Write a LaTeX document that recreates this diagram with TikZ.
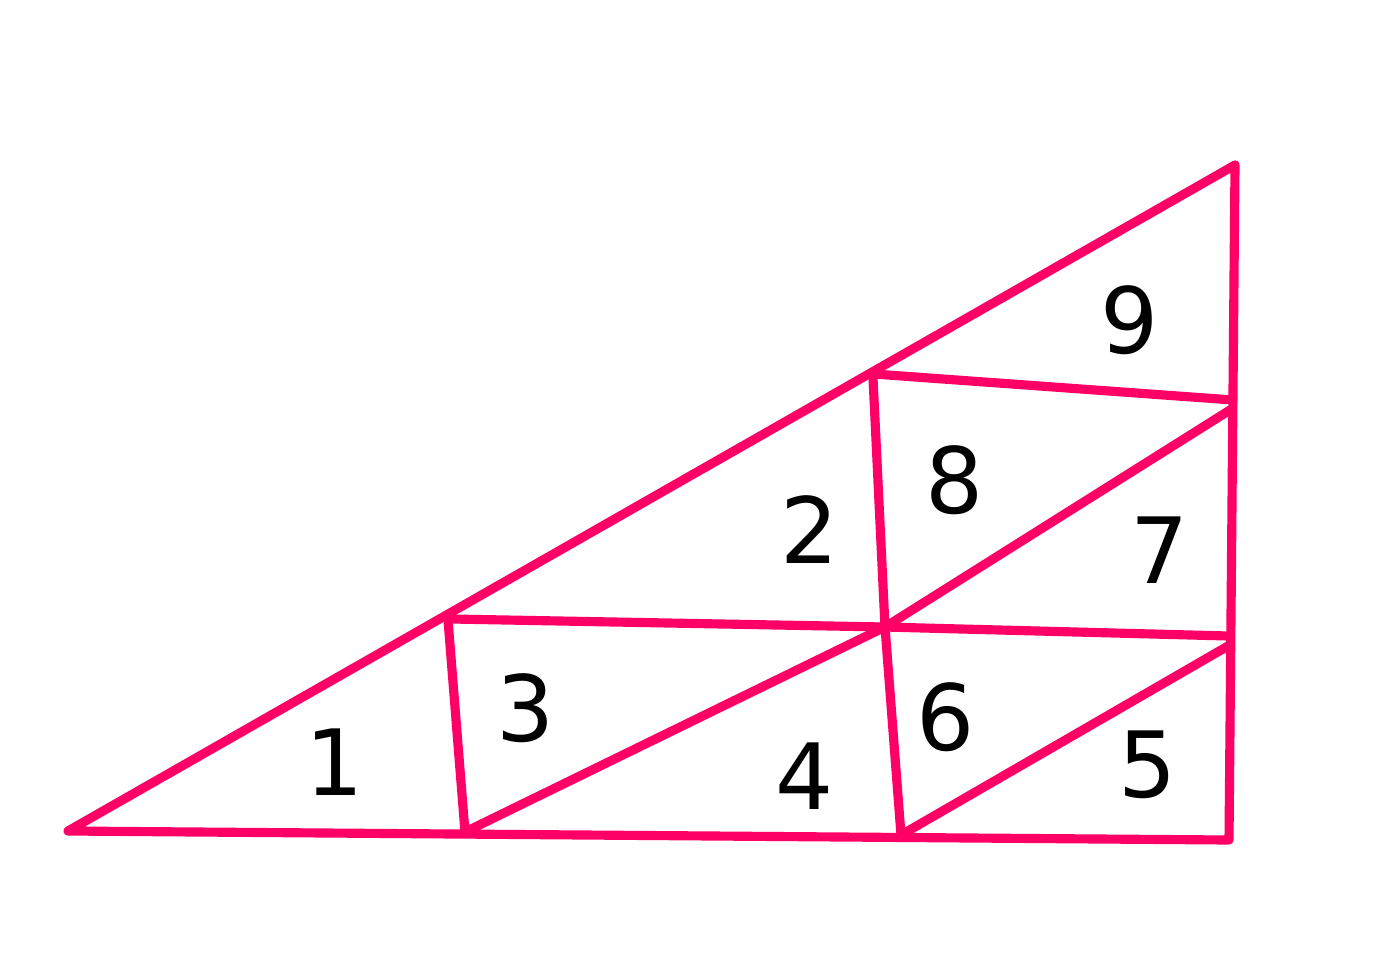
\documentclass[tikz,border=0pt]{standalone}
\usepackage{fontspec}
\setmainfont{DejaVu Sans}
\definecolor{edge}{HTML}{FF0066}
\begin{document}
\begin{tikzpicture}[x=0.01cm,y=-0.01cm,
  edgeline/.style={draw=edge,line width=2.6pt,line cap=round,line join=round},
  num/.style={font=\fontsize{26}{30}\selectfont,text=black,inner sep=0pt}]
\useasboundingbox[fill=white] (0,0) rectangle (1400,969);
% corners
\coordinate (A) at (68,831);
\coordinate (T) at (1235,165);
\coordinate (B) at (1229,840);
% hypotenuse points
\coordinate (H1) at (450,613);
\coordinate (H2) at (874,374);
% interior / side points
\coordinate (M) at (885,627);
\coordinate (R1) at (1233,400);
\coordinate (R1b) at (1230,410);
\coordinate (R2) at (1229,636);
\coordinate (R2b) at (1228,646);
\coordinate (D1) at (465,832);
\coordinate (D2) at (901,835);
\coordinate (V1) at (448,620);
% outer triangle
\draw[edgeline] (A) -- (T) -- (B) -- cycle;
% lines
\draw[edgeline] (H2) -- (R1);
\draw[edgeline] (452,619) -- (M) -- (R2);
\draw[edgeline] (V1) -- (D1);
\draw[edgeline] (873,378) -- (M) -- (D2);
\draw[edgeline] (D1) -- (M) -- (R1b);
\draw[edgeline] (D2) -- (R2b);
% labels
\node[num] (n1) at (335,762) {1};
\node[num] (n2) at (810,530) {2};
\node[num] (n3) at (526,708) {3};
\node[num] (n4) at (805,776) {4};
\node[num] (n5) at (1148,765) {5};
\node[num] (n6) at (946,717) {6};
\node[num] (n7) at (1160,550) {7};
\node[num] (n8) at (955,480) {8};
\node[num] (n9) at (1130,320) {9};
\end{tikzpicture}
\end{document}
